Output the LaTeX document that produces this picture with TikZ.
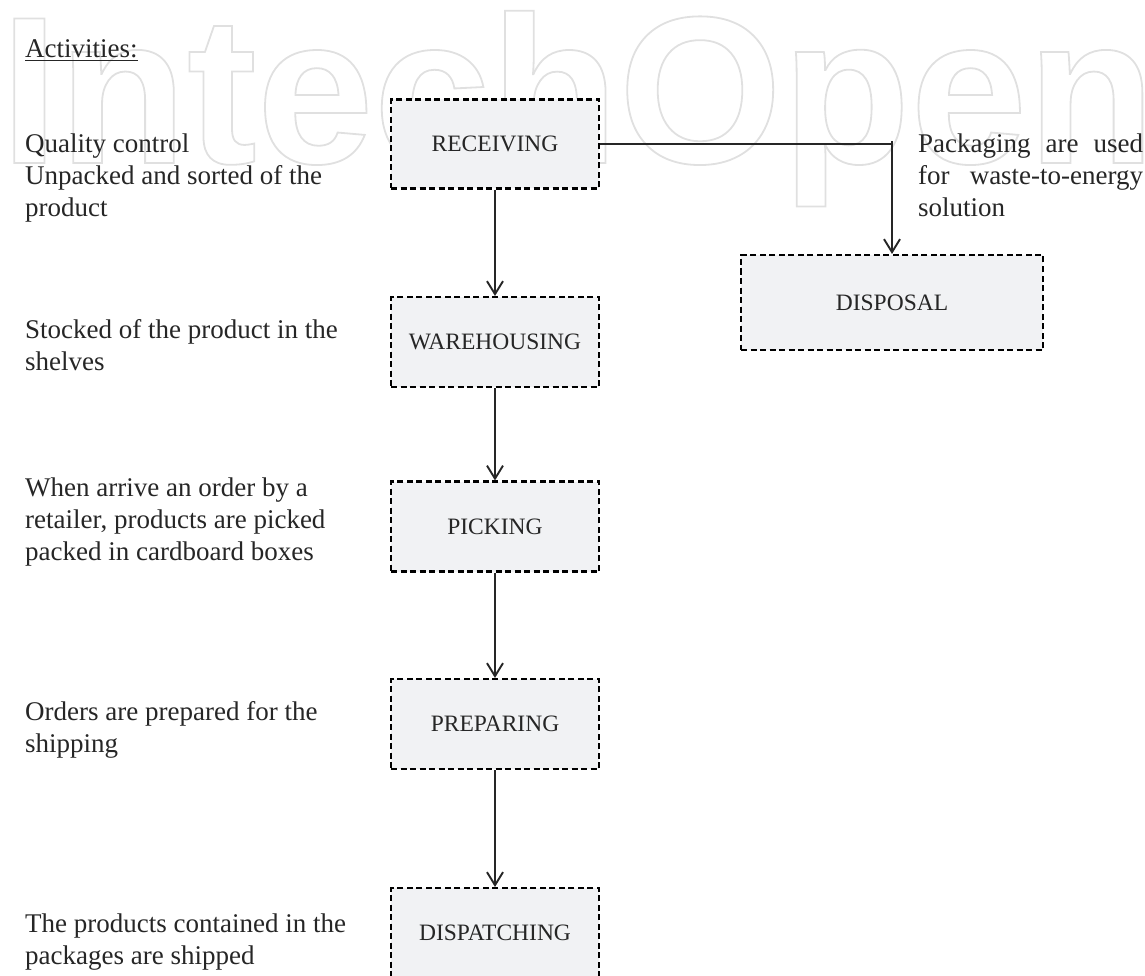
\documentclass[tikz,border=0pt]{standalone}
\usepackage{fontspec}
\setmainfont{Liberation Serif}
\newfontfamily\wmfont{Liberation Sans}
\usetikzlibrary{arrows.meta}
\definecolor{boxfill}{HTML}{F1F2F4}
\definecolor{wmgray}{HTML}{E0E0E0}
\definecolor{ink}{HTML}{262626}
\tikzset{
  stepbox/.style={draw=black, line width=2.1pt, dash pattern=on 6pt off 3.5pt,
    fill=boxfill, minimum width=208pt, minimum height=90pt, inner sep=0pt,
    text=ink, font=\fontsize{23.5}{28}\selectfont},
  flow/.style={draw=ink, line width=1.9pt,
    -{Straight Barb[length=13pt,width=16pt,line width=1.9pt]}},
  note/.style={anchor=base west, align=left, inner sep=0pt, text=ink,
    font=\fontsize{27}{32}\selectfont},
}
\begin{document}
\begin{tikzpicture}[x=1pt,y=-1pt]
\useasboundingbox (0,0) rectangle (1145,976);
\clip (0,0) rectangle (1145,976);
% watermark
\begin{scope}
\node[anchor=base west, inner sep=0pt, text=wmgray] (wm) at (0,163)
  {\wmfont\bfseries\fontsize{210}{210}\selectfont\special{pdf:literal direct 1 Tr 1.8 w}IntechOpen\special{pdf:literal direct 0 Tr}};
\end{scope}
% activity notes (anchored at the baseline of their last line)
\node[note] (act) at (25,58) {\underline{Activities:}};
\node[note] (n1) at (25,217) {Quality control\\Unpacked and sorted of the\\product};
\node[note] (n2) at (25,370) {Stocked of the product in the\\shelves};
\node[note] (n3) at (25,560) {When arrive an order by a\\retailer, products are picked\\packed in cardboard boxes};
\node[note] (n4) at (25,752) {Orders are prepared for the\\shipping};
\node[note] (n5) at (25,964) {The products contained in the\\packages are shipped};
\node[note] (n6) at (918,217) {\makebox[225pt][s]{Packaging are used}\\\makebox[225pt][s]{for waste-to-energy}\\solution};
% process boxes
\node[stepbox, minimum height=89pt] (rec) at (495,144) {RECEIVING};
\node[stepbox] (war) at (495,342) {WAREHOUSING};
\node[stepbox] (pick) at (495,526.5) {PICKING};
\node[stepbox] (prep) at (495,724) {PREPARING};
\node[stepbox] (disp) at (495,933) {DISPATCHING};
\node[stepbox, minimum width=302pt, minimum height=95pt] (dis) at (892,302.5) {DISPOSAL};
% connectors
\coordinate (turn) at (rec.east -| dis.north);
\draw[flow] (rec) -- (war);
\draw[flow] (war) -- (pick);
\draw[flow] (pick) -- (prep);
\draw[flow] (prep) -- (disp);
\draw[flow] (rec.east) -- (turn) ++(0,-3) -- (dis.north);
\end{tikzpicture}
\end{document}
